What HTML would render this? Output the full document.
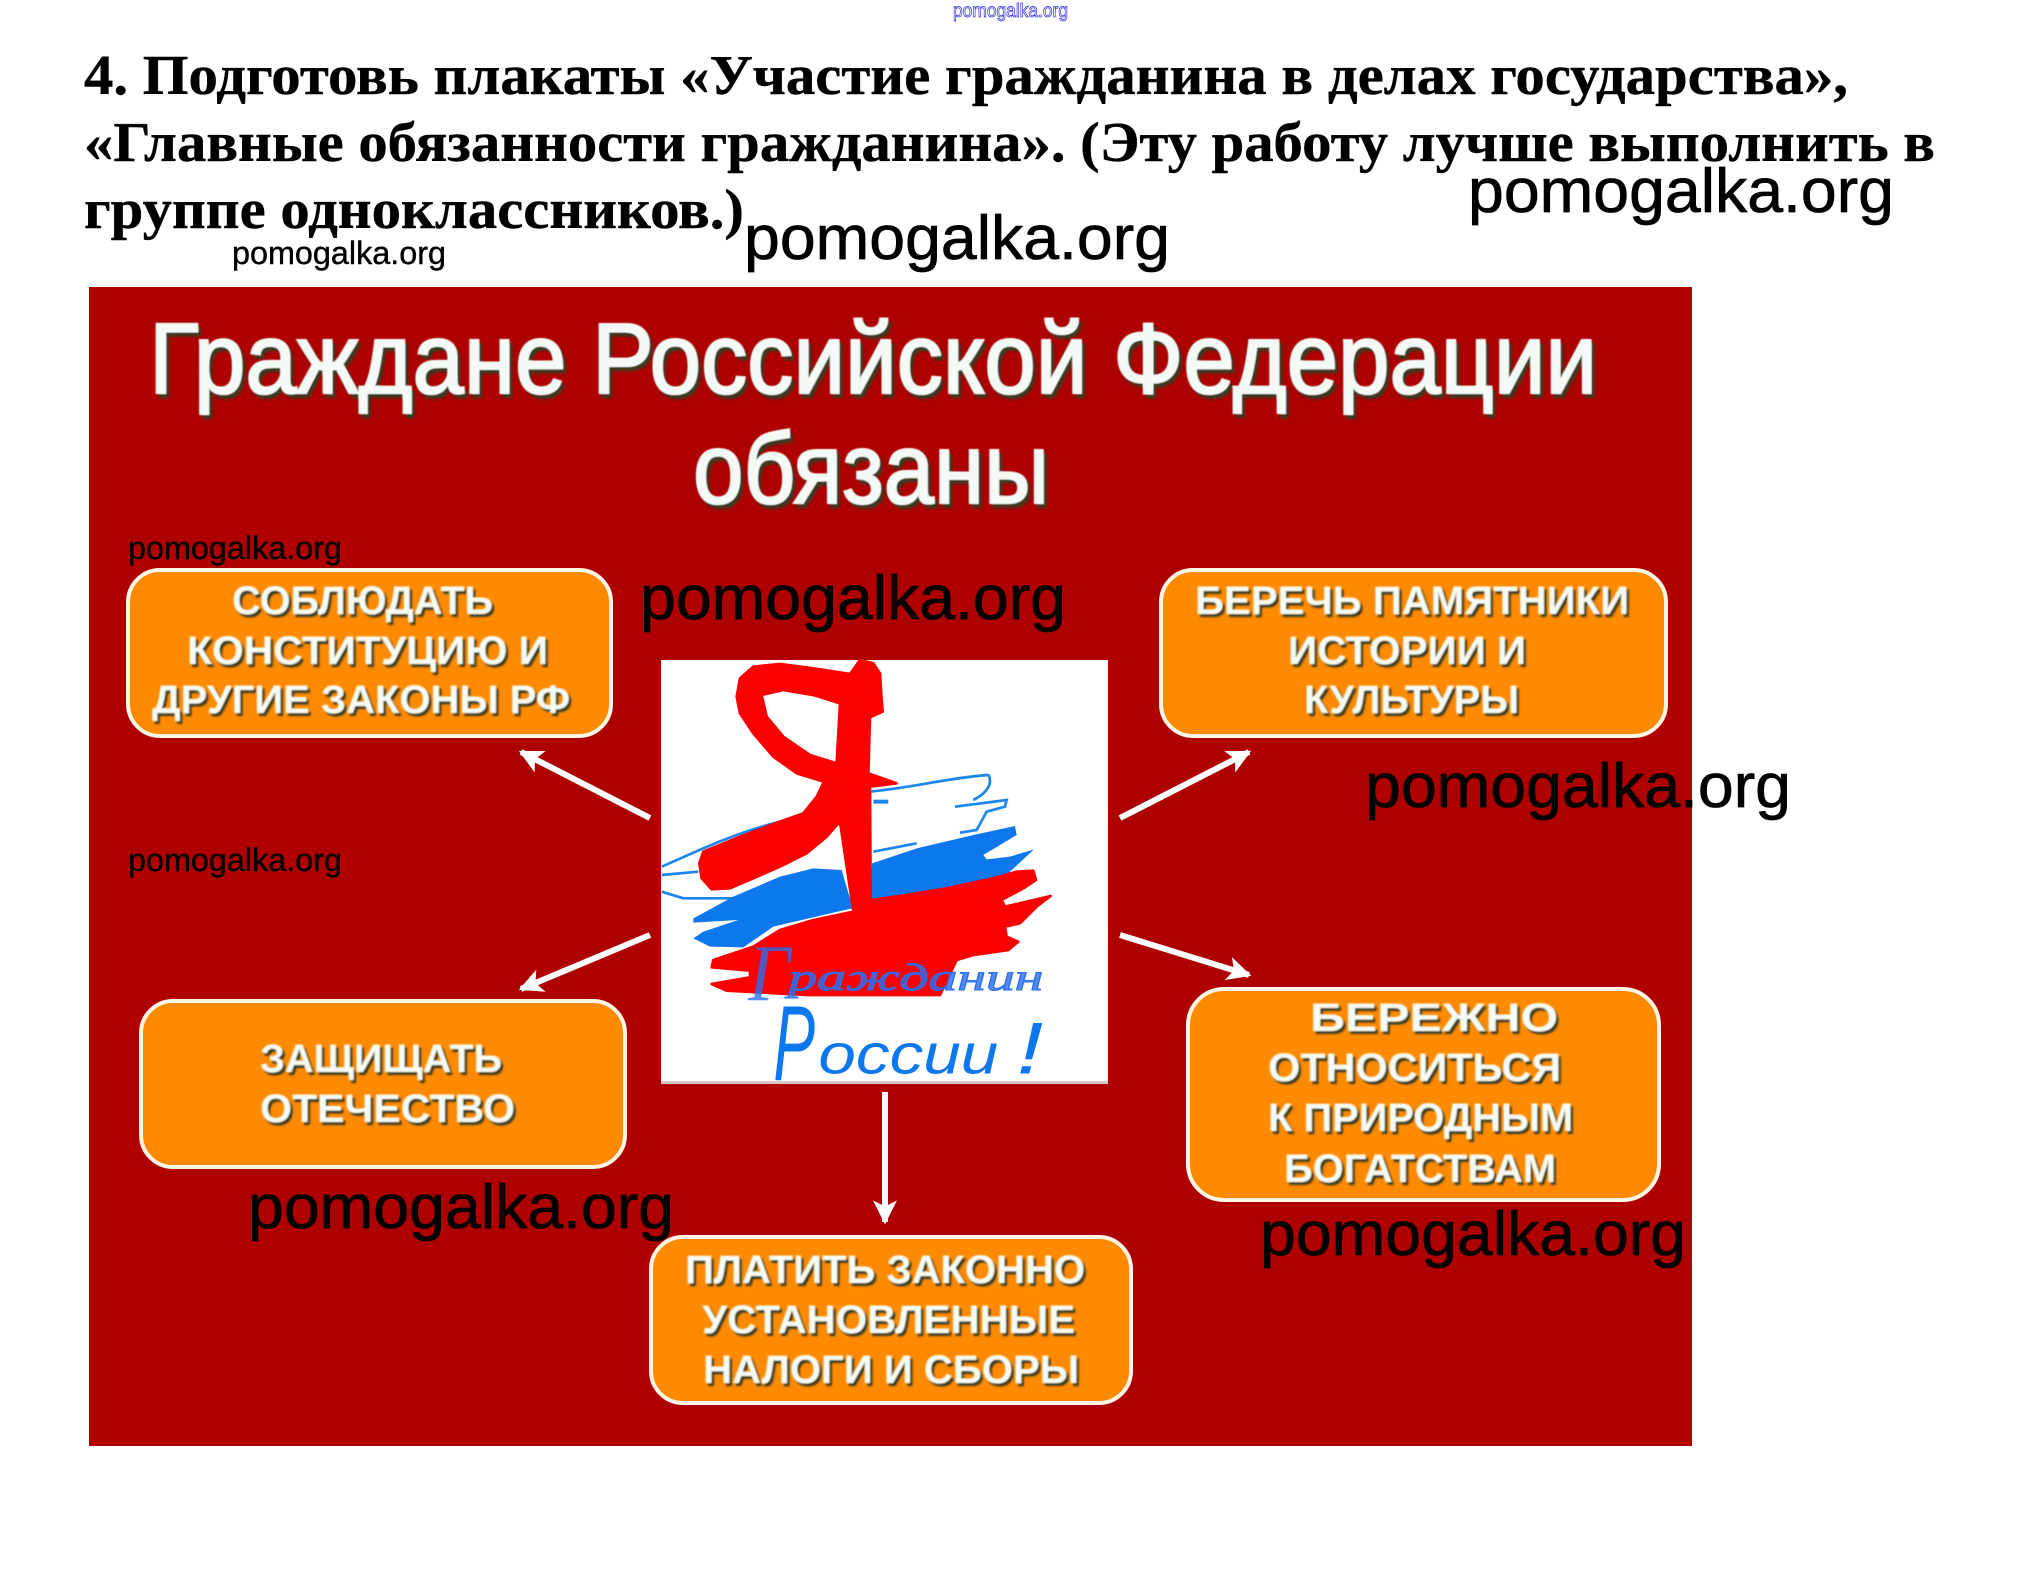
<!DOCTYPE html>
<html lang="ru"><head><meta charset="utf-8"><title>Граждане Российской Федерации обязаны</title>
<style>
html,body{margin:0;padding:0;background:#fff}
svg{display:block}
.h{font:bold 56px "Liberation Serif","Noto Serif CJK SC",serif;fill:#000;stroke:#000;stroke-width:.4}
.wb{font:62px "Liberation Sans",sans-serif;fill:#000;stroke:#000;stroke-width:.7}
.ws{font:32px "Liberation Sans",sans-serif;fill:#000;stroke:#000;stroke-width:.4}
.t{font:100px "Liberation Sans","Noto Sans CJK SC",sans-serif;fill:#f4fbf6;stroke:#f4fbf6;stroke-width:2}
.b{font:bold 40px "Liberation Sans","Noto Sans CJK SC",sans-serif;fill:#f6fbf4}
.box{fill:#ff8a00;stroke:#fff6e6;stroke-width:4}
</style></head><body>
<svg width="2019" height="1582" viewBox="0 0 2019 1582" xmlns="http://www.w3.org/2000/svg">
<defs>
<filter id="ts" x="-5%" y="-20%" width="110%" height="140%"><feGaussianBlur in="SourceGraphic" stdDeviation=".6"/><feDropShadow dx="3" dy="4" stdDeviation="1.2" flood-color="#3a3a20"/></filter>
<filter id="bs" x="-5%" y="-20%" width="110%" height="140%"><feGaussianBlur in="SourceGraphic" stdDeviation=".8"/><feDropShadow dx="2.5" dy="3" stdDeviation=".8" flood-color="#3a3a20"/></filter>
<filter id="s1"><feGaussianBlur stdDeviation=".8"/></filter>
<marker id="ah" viewBox="0 0 10 10" refX="9" refY="5" markerWidth="4" markerHeight="4" orient="auto"><path d="M0 0L10 5L0 10L2.5 5Z" fill="#fff"/></marker>
</defs>
<rect width="2019" height="1582" fill="#fff"/>

<text x="953" y="17" font-family="Liberation Sans,sans-serif" font-size="19" fill="#fff" stroke="#2a2ad8" stroke-width=".7" textLength="115" lengthAdjust="spacingAndGlyphs">pomogalka.org</text>

<text class="h" x="84" y="94" textLength="1764" lengthAdjust="spacingAndGlyphs">4. Подготовь плакаты «Участие гражданина в делах государства»,</text>
<text class="h" x="84" y="161" textLength="1851" lengthAdjust="spacingAndGlyphs">«Главные обязанности гражданина». (Эту работу лучше выполнить в</text>
<text class="h" x="84" y="228" textLength="660" lengthAdjust="spacingAndGlyphs">группе одноклассников.)</text>

<rect x="89" y="287" width="1603" height="1159" fill="#ae0000"/>

<g filter="url(#ts)">
<text class="t" x="149" y="393" textLength="1448" lengthAdjust="spacingAndGlyphs">Граждане Российской Федерации</text>
<text class="t" x="693" y="503" textLength="356" lengthAdjust="spacingAndGlyphs">обязаны</text>
</g>

<rect class="box" x="128" y="570" width="483" height="166" rx="32"/>
<rect class="box" x="1161" y="570" width="505" height="166" rx="32"/>
<rect class="box" x="141" y="1001" width="484" height="166" rx="32"/>
<rect class="box" x="1188" y="989" width="471" height="211" rx="36"/>
<rect class="box" x="651" y="1237" width="480" height="166" rx="32"/>

<g filter="url(#bs)">
<text class="b" x="232" y="614" textLength="261" lengthAdjust="spacingAndGlyphs">СОБЛЮДАТЬ</text>
<text class="b" x="187" y="664" textLength="361" lengthAdjust="spacingAndGlyphs">КОНСТИТУЦИЮ И</text>
<text class="b" x="152" y="713" textLength="418" lengthAdjust="spacingAndGlyphs">ДРУГИЕ ЗАКОНЫ РФ</text>

<text class="b" x="1195" y="614" textLength="434" lengthAdjust="spacingAndGlyphs">БЕРЕЧЬ ПАМЯТНИКИ</text>
<text class="b" x="1288" y="664" textLength="238" lengthAdjust="spacingAndGlyphs">ИСТОРИИ И</text>
<text class="b" x="1304" y="713" textLength="215" lengthAdjust="spacingAndGlyphs">КУЛЬТУРЫ</text>

<text class="b" x="260" y="1072" textLength="242" lengthAdjust="spacingAndGlyphs">ЗАЩИЩАТЬ</text>
<text class="b" x="260" y="1122" textLength="255" lengthAdjust="spacingAndGlyphs">ОТЕЧЕСТВО</text>

<text class="b" x="1310" y="1031" textLength="248" lengthAdjust="spacingAndGlyphs">БЕРЕЖНО</text>
<text class="b" x="1268" y="1081" textLength="293" lengthAdjust="spacingAndGlyphs">ОТНОСИТЬСЯ</text>
<text class="b" x="1268" y="1131" textLength="305" lengthAdjust="spacingAndGlyphs">К ПРИРОДНЫМ</text>
<text class="b" x="1284" y="1182" textLength="272" lengthAdjust="spacingAndGlyphs">БОГАТСТВАМ</text>

<text class="b" x="685" y="1283" textLength="400" lengthAdjust="spacingAndGlyphs">ПЛАТИТЬ ЗАКОННО</text>
<text class="b" x="702" y="1333" textLength="373" lengthAdjust="spacingAndGlyphs">УСТАНОВЛЕННЫЕ</text>
<text class="b" x="703" y="1383" textLength="376" lengthAdjust="spacingAndGlyphs">НАЛОГИ И СБОРЫ</text>
</g>

<g stroke="#fff" stroke-width="6" fill="none">
<line x1="650" y1="818" x2="521" y2="752" marker-end="url(#ah)"/>
<line x1="1120" y1="818" x2="1249" y2="752" marker-end="url(#ah)"/>
<line x1="650" y1="935" x2="521" y2="989" marker-end="url(#ah)"/>
<line x1="1120" y1="935" x2="1249" y2="975" marker-end="url(#ah)"/>
<line x1="885" y1="1092" x2="885" y2="1222" marker-end="url(#ah)"/>
</g>

<rect x="661" y="660" width="447" height="424" fill="#fff"/>
<rect x="661" y="1081" width="447" height="3" fill="#d8c8c8"/>
<g transform="translate(640,640) scale(.33333)">
<g filter="url(#s1)">
<g fill="none" stroke="#1a86ee" stroke-width="8">
<path d="M190 625L65 680M65 705L175 695M65 755L130 775L290 775"/>
<path d="M190 625C270 590 340 565 420 545"/>
<path d="M690 455C800 445 950 410 1045 405C1060 430 1040 460 1000 480"/>
<path d="M945 500L1100 480L1095 500L1040 515L1010 570L960 578"/>
<path d="M700 485H745" stroke-width="12"/>
<path d="M700 635L830 610"/>
</g>
<path d="M160 835L280 770L420 710L520 685L605 690L640 810L690 775L696 670L830 625L1000 585L1125 558L1130 585L1030 645L1040 658L1110 650L1182 628L1110 695L1100 720L700 790L400 860L310 922L210 920L160 895L190 875L295 840L160 848Z" fill="#0d78ee"/>
<path fill-rule="evenodd" stroke="#fb0606" stroke-width="8" stroke-linejoin="round" d="M660 60L700 70L720 100L725 180L728 215L690 232L685 400L770 430L690 440L692 780L800 765L920 745L1060 715L1130 695L1180 692L1188 720L1150 745L1085 780L1095 800L1232 768L1190 800L1140 850L1095 860L1100 890L1135 905L1105 930L1000 945L950 960L900 1065L500 1065L260 1052L215 1032L330 1012L330 992L215 982L220 960L340 920L420 870L520 840L640 815L600 545L560 590L500 640L420 680L340 715L270 745L215 748L185 715L178 670L190 635L300 590L420 545L490 520L530 470L552 425L470 400L400 350L340 280L300 220L290 170L300 115L340 80L420 72L520 85L630 102ZM365 165L430 150L520 165L600 190L590 370L510 345L430 290L380 230Z" fill="#fb0606"/>
</g>
<g fill="#2a6ff0" fill-opacity=".8" font-family="Liberation Serif,serif" font-style="italic">
<text x="325" y="1080" font-size="240" textLength="125" lengthAdjust="spacingAndGlyphs">Г</text>
<text x="445" y="1050" font-size="115" textLength="765" lengthAdjust="spacingAndGlyphs" stroke="#2a6ff0" stroke-width="3">ражданин</text>
</g>
<g fill="#0d78ee" font-family="Liberation Sans,sans-serif" font-style="italic">
<text x="400" y="1320" font-size="320" textLength="125" lengthAdjust="spacingAndGlyphs">Р</text>
<text x="535" y="1300" font-size="170" textLength="540" lengthAdjust="spacingAndGlyphs">оссии</text>
<text x="1130" y="1300" font-size="220" textLength="80" lengthAdjust="spacingAndGlyphs">!</text>
</g>
</g>

<g>
<text class="wb" x="1468" y="212" textLength="426" lengthAdjust="spacingAndGlyphs">pomogalka.org</text>
<text class="wb" x="744" y="259" textLength="426" lengthAdjust="spacingAndGlyphs">pomogalka.org</text>
<text class="wb" x="640" y="619" textLength="426" lengthAdjust="spacingAndGlyphs">pomogalka.org</text>
<text class="wb" x="1365" y="807" textLength="426" lengthAdjust="spacingAndGlyphs">pomogalka.org</text>
<text class="wb" x="248" y="1228" textLength="426" lengthAdjust="spacingAndGlyphs">pomogalka.org</text>
<text class="wb" x="1260" y="1255" textLength="426" lengthAdjust="spacingAndGlyphs">pomogalka.org</text>
<text class="ws" x="232" y="264" textLength="214" lengthAdjust="spacingAndGlyphs">pomogalka.org</text>
<text class="ws" x="128" y="559" textLength="214" lengthAdjust="spacingAndGlyphs">pomogalka.org</text>
<text class="ws" x="128" y="871" textLength="214" lengthAdjust="spacingAndGlyphs">pomogalka.org</text>
</g>
</svg>
</body></html>
